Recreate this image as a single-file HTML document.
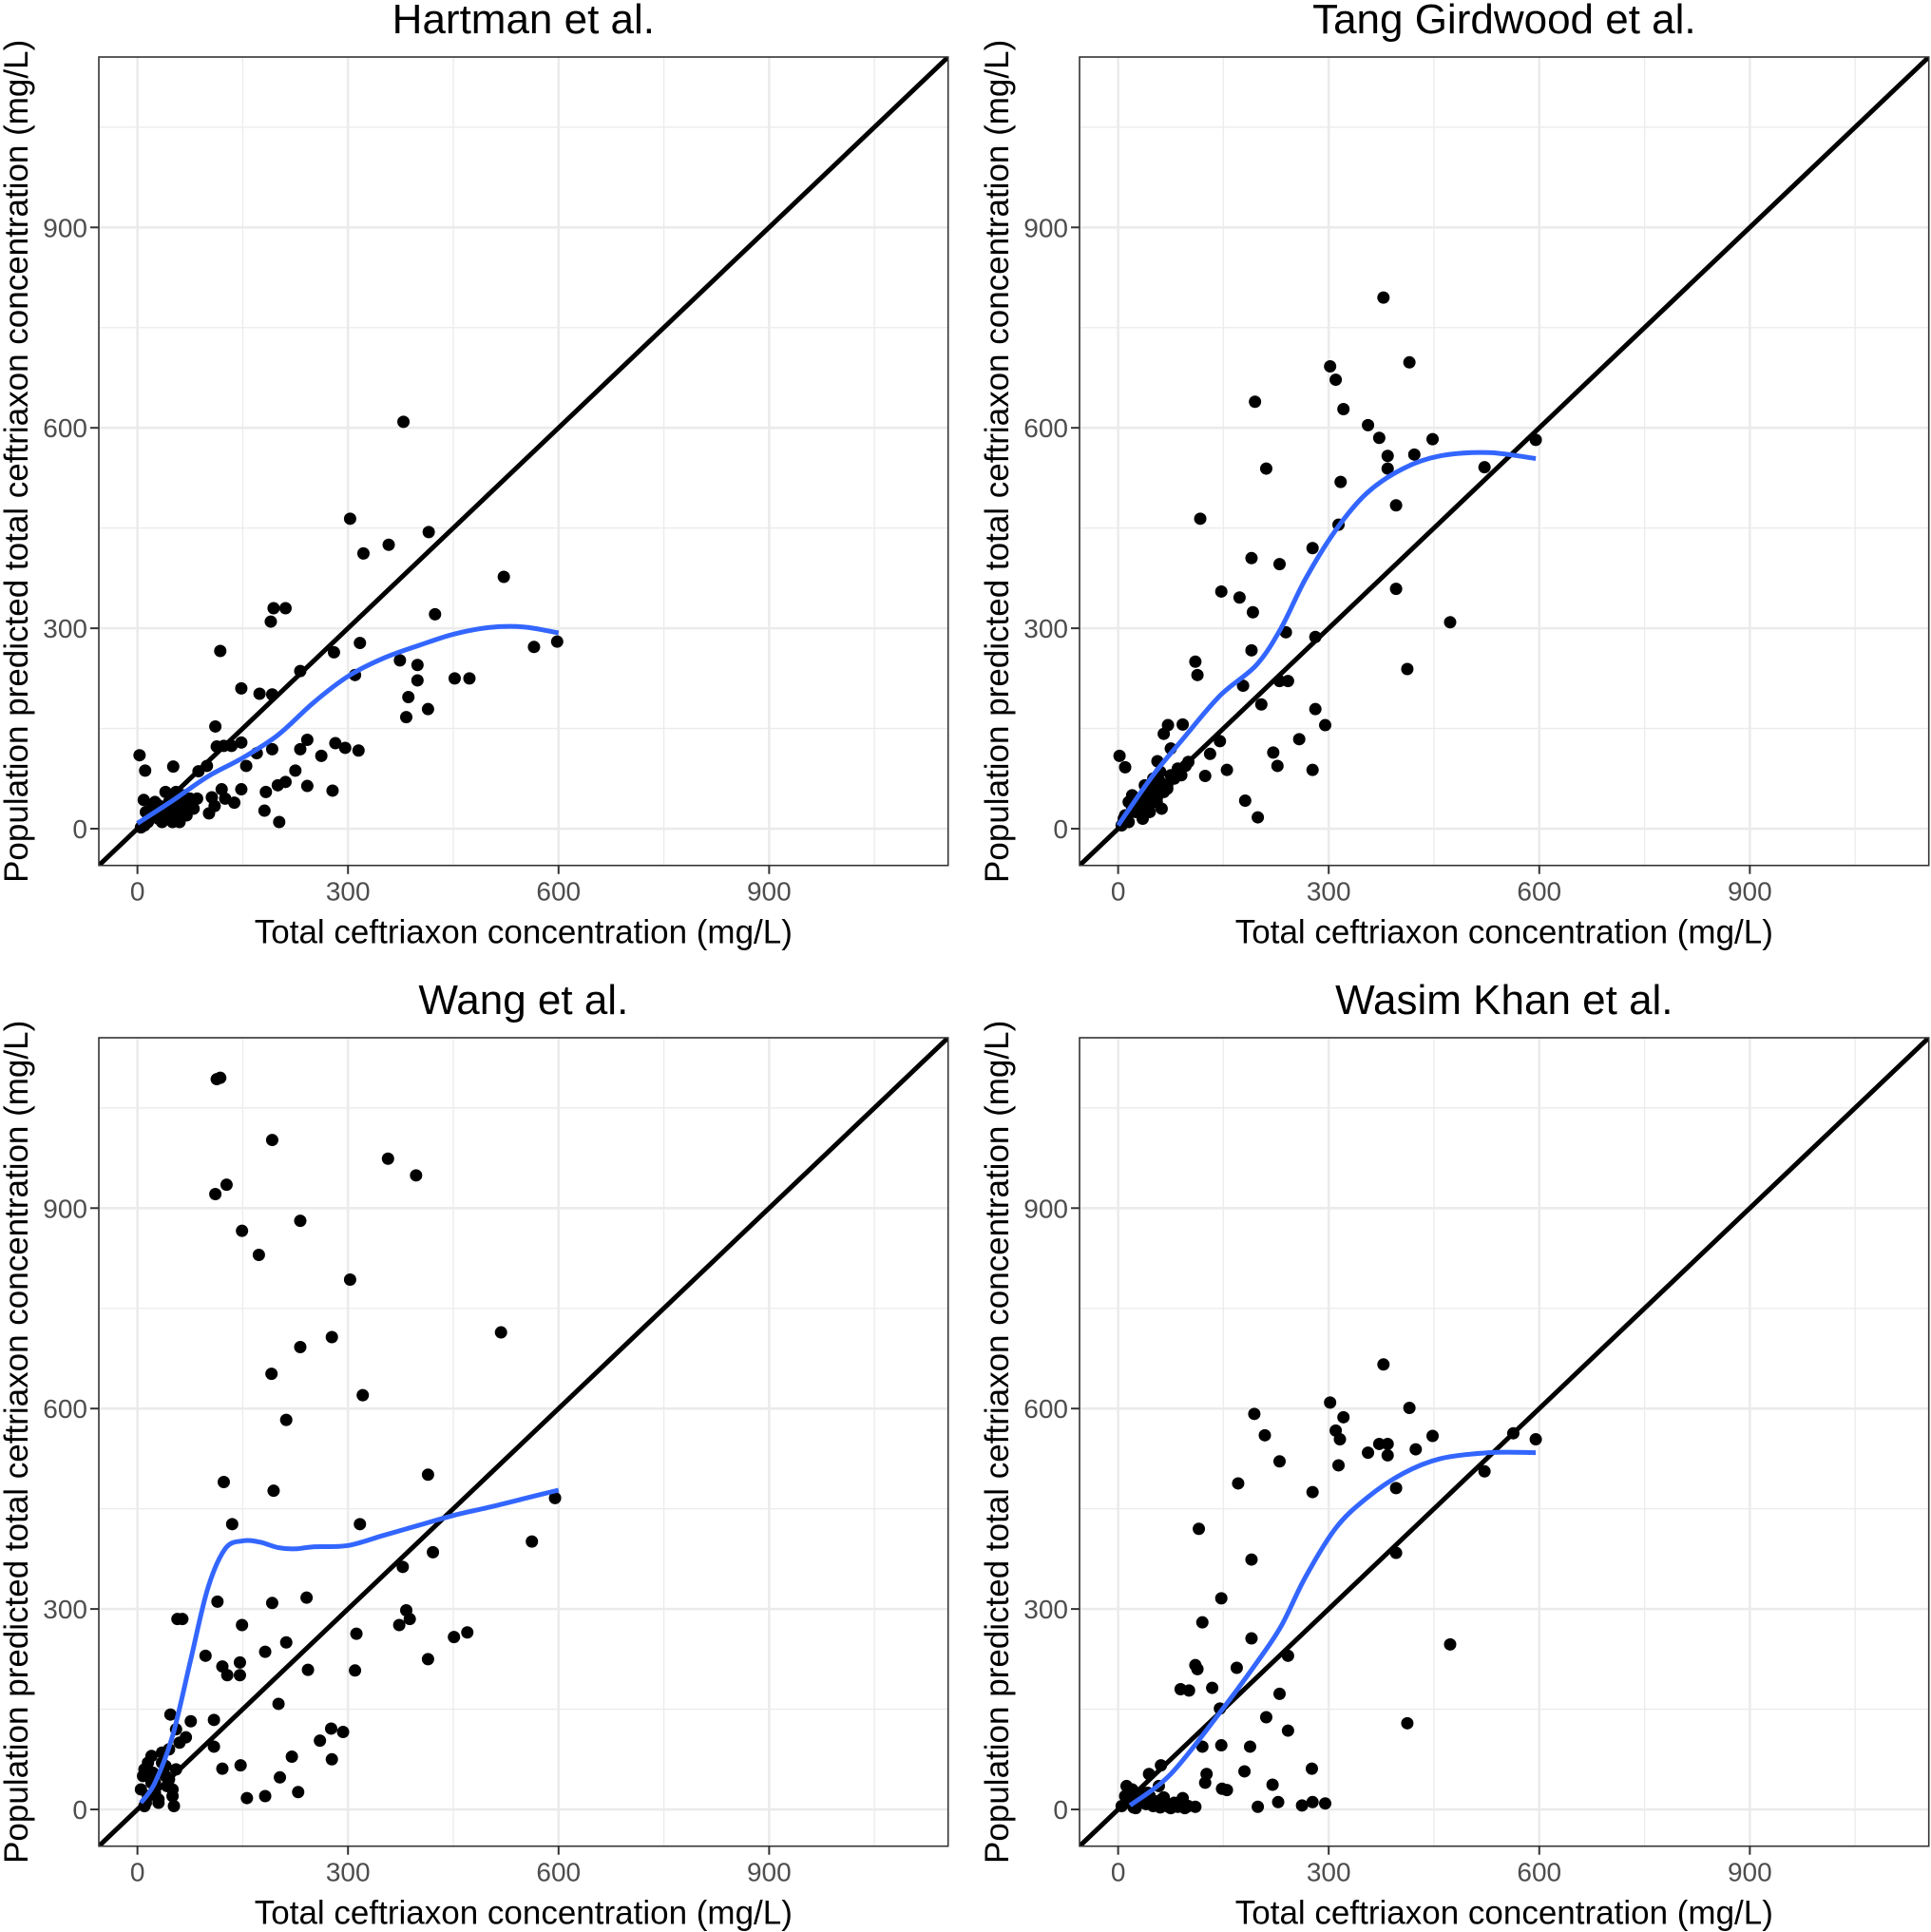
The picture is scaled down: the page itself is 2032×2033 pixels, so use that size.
<!DOCTYPE html>
<html><head><meta charset="utf-8"><title>Ceftriaxon predicted vs observed</title>
<style>html,body{margin:0;padding:0;background:#fff;}svg{display:block;}text{font-family:"Liberation Sans",Arial,sans-serif;}</style>
</head><body>
<svg id="chart" width="2032" height="2033" viewBox="0 0 2032 2033" xmlns="http://www.w3.org/2000/svg"></svg>
<script>
const panelTitles = ["Hartman et al.", "Tang Girdwood et al.", "Wang et al.", "Wasim Khan et al."];
const tickValues = [0, 300, 600, 900];
const tickLabels = ["0", "300", "600", "900"];
const minorTicks = [150, 450, 750, 1050];

const hartmanX = [379,303,415,358,322,522,424,194,211,190,118,280,317,598,565,310,232,374,399,399,452,473,386,383,414,148,174,192,111,113,123,134,148,170,192,155,232,242,262,282,296,315,99,87,3,11,51,225,211,200,242,278,183,148,120,106,110,125,138,102,181,202,9,20,25,30,35,40,45,50,55,60,65,70,75,80,50,45,60,30,15,10,5,70,85,40,55,65,35,25,12,48,58];
const hartmanY = [609,464,444,425,412,377,321,330,330,310,266,264,278,280,272,230,236,252,245,222,225,225,197,167,179,210,202,201,153,123,124,124,129,113,119,94,119,133,109,128,121,117,94,86,110,87,93,87,70,65,64,57,55,59,59,47,34,45,39,23,27,10,43,30,20,15,25,30,40,20,50,35,25,40,45,30,10,15,10,35,10,5,2,20,45,55,55,50,10,40,25,28,18];

const tangX = [378,302,415,310,321,195,356,372,448,595,384,422,211,384,522,317,396,117,314,190,230,277,396,147,173,192,239,473,281,281,295,258,412,190,110,113,242,230,204,178,221,227,277,181,199,124,145,155,131,92,71,65,2,10,75,56,96,5,10,15,20,25,30,35,40,45,50,55,60,65,70,75,80,20,30,40,50,60,70,35,45,55,25,15,8,62,48,38,85,100,90];
const tangY = [795,692,698,672,628,639,604,585,583,582,558,560,539,539,541,519,484,464,455,405,396,420,359,355,346,324,294,309,287,179,155,134,239,267,250,230,221,221,186,214,114,94,88,42,17,79,131,88,112,156,155,142,109,92,120,101,94,5,20,10,30,25,40,20,50,35,60,45,70,55,65,80,75,50,45,30,75,85,60,15,25,40,35,40,15,30,55,65,90,100,80];

const wangX = [118,113,192,357,397,111,127,149,232,173,303,518,232,277,191,212,321,123,414,194,135,317,562,595,378,192,241,114,57,64,383,388,312,212,451,470,373,414,421,149,121,146,128,97,243,310,182,146,201,109,109,121,276,293,260,277,220,203,156,182,229,147,47,76,69,5,10,15,20,25,30,35,40,45,50,55,60,10,20,30,40,50,55,45,35,25,15,8,12,22,42,52];
const wangY = [1095,1093,1002,974,949,921,935,866,881,830,793,714,692,707,652,583,620,490,501,477,427,427,401,466,363,309,317,311,285,285,298,285,263,250,258,265,276,225,385,276,214,201,201,230,209,208,236,220,158,134,94,61,121,116,103,75,79,48,17,20,26,66,142,132,108,30,60,20,80,40,10,70,50,90,30,60,100,5,40,15,65,20,120,45,85,25,70,50,10,55,35,5];

const khanX = [378,302,415,194,321,310,209,448,563,595,316,372,384,356,384,424,230,314,522,171,396,277,115,396,190,147,120,190,473,242,110,113,169,134,89,101,145,211,230,412,147,242,120,188,180,276,126,124,220,148,155,228,199,277,295,262,110,58,44,61,92,5,10,15,20,25,30,35,40,45,50,55,60,65,70,75,80,85,90,95,100,12,22,32,42,52,62,72,18,28];
const khanY = [666,609,601,592,587,567,560,559,563,554,554,547,547,534,530,539,521,515,506,488,481,475,420,384,374,316,280,256,247,230,216,210,212,182,180,178,151,138,173,129,96,118,94,94,57,61,53,40,37,31,29,11,4,11,9,6,4,35,53,66,17,5,20,10,30,2,15,25,8,20,5,12,3,18,6,2,10,4,8,2,5,35,3,12,25,6,15,4,28,14];

const hartmanSmoothX = [0,50,100,150,200,250,300,350,400,450,500,550,600];
const hartmanSmoothY = [8,42,78,106,140,188,228,255,274,291,301,302,293];
const tangSmoothX = [0,49,92,145,197,232,267,310,354,406,459,528,595];
const tangSmoothY = [5,79,134,199,245,300,374,447,502,539,558,563,554];
const wangSmoothX = [5,25,50,75,100,125,150,175,200,225,250,300,350,400,450,500,550,600];
const wangSmoothY = [10,40,110,220,330,390,402,400,392,390,393,395,410,425,440,452,465,478];
const khanSmoothX = [17,75,145,197,232,267,310,354,406,459,528,595];
const khanSmoothY = [6,53,145,219,274,348,421,466,503,525,534,534];

const panelXs = [hartmanX, tangX, wangX, khanX];
const panelYs = [hartmanY, tangY, wangY, khanY];
const smoothXs = [hartmanSmoothX, tangSmoothX, wangSmoothX, khanSmoothX];
const smoothYs = [hartmanSmoothY, tangSmoothY, wangSmoothY, khanSmoothY];
const panelKeys = ["hartman", "tang-girdwood", "wang", "wasim-khan"];

const NS = "http://www.w3.org/2000/svg";
const svg = document.getElementById("chart");
const DMIN = -55, DMAX = 1155;
const PW = 893.7, PH = 850.7;
function mk(tag, attrs, parent) {
  const e = document.createElementNS(NS, tag);
  for (const k in attrs) e.setAttribute(k, attrs[k]);
  parent.appendChild(e);
  return e;
}
function sx(v, x0) { return x0 + (v - DMIN) / (DMAX - DMIN) * PW; }
function sy(v, y0) { return y0 + PH - (v - DMIN) / (DMAX - DMIN) * PH; }
function smoothPath(pts) {
  let d = "M" + pts[0][0].toFixed(1) + "," + pts[0][1].toFixed(1);
  for (let i = 0; i < pts.length - 1; i++) {
    const p0 = pts[Math.max(0, i - 1)], p1 = pts[i], p2 = pts[i + 1], p3 = pts[Math.min(pts.length - 1, i + 2)];
    const c1x = p1[0] + (p2[0] - p0[0]) / 6, c1y = p1[1] + (p2[1] - p0[1]) / 6;
    const c2x = p2[0] - (p3[0] - p1[0]) / 6, c2y = p2[1] - (p3[1] - p1[1]) / 6;
    d += "C" + c1x.toFixed(1) + "," + c1y.toFixed(1) + " " + c2x.toFixed(1) + "," + c2y.toFixed(1) + " " + p2[0].toFixed(1) + "," + p2[1].toFixed(1);
  }
  return d;
}

for (let p = 0; p < 4; p++) {
  const x0 = p % 2 === 0 ? 104 : 1136;
  const y0 = p < 2 ? 60 : 1092;
  const key = panelKeys[p];
  const g = mk("g", {}, svg);
  
  
  const cid = "clip" + p;
  const cp = mk("clipPath", {id: cid}, g);
  mk("rect", {x: x0, y: y0, width: PW, height: PH}, cp);
  const grid = mk("g", {}, g);
  
  
  minorTicks.forEach(v => {
    mk("line", {x1: sx(v, x0), x2: sx(v, x0), y1: y0, y2: y0 + PH, stroke: "#ebebeb", "stroke-width": 1.3}, grid);
    mk("line", {x1: x0, x2: x0 + PW, y1: sy(v, y0), y2: sy(v, y0), stroke: "#ebebeb", "stroke-width": 1.3}, grid);
  });
  tickValues.forEach(v => {
    mk("line", {x1: sx(v, x0), x2: sx(v, x0), y1: y0, y2: y0 + PH, stroke: "#ebebeb", "stroke-width": 2.6}, grid);
    mk("line", {x1: x0, x2: x0 + PW, y1: sy(v, y0), y2: sy(v, y0), stroke: "#ebebeb", "stroke-width": 2.6}, grid);
  });
  const plot = mk("g", {"clip-path": "url(#" + cid + ")"}, g);
  const xs = panelXs[p], ys = panelYs[p];
  for (let i = 0; i < xs.length; i++) {
    const c = mk("circle", {cx: sx(xs[i], x0), cy: sy(ys[i], y0), r: 6.5, fill: "#000"}, plot);
    
    
  }
  const idl = mk("line", {x1: sx(DMIN, x0), y1: sy(DMIN, y0), x2: sx(DMAX, x0), y2: sy(DMAX, y0), stroke: "#000", "stroke-width": 5}, plot);
  
  
  const smx = smoothXs[p], smy = smoothYs[p];
  const pts = smx.map((v, i) => [sx(v, x0), sy(smy[i], y0)]);
  const sm = mk("path", {d: smoothPath(pts), fill: "none", stroke: "#3366ff", "stroke-width": 5, "stroke-linejoin": "round", "stroke-linecap": "butt"}, plot);
  
  
  const border = mk("rect", {x: x0, y: y0, width: PW, height: PH, fill: "none", stroke: "#333", "stroke-width": 1.6}, g);
  
  
  tickValues.forEach((v, i) => {
    mk("line", {x1: sx(v, x0), x2: sx(v, x0), y1: y0 + PH, y2: y0 + PH + 9, stroke: "#333", "stroke-width": 2}, g);
    mk("line", {x1: x0 - 9, x2: x0, y1: sy(v, y0), y2: sy(v, y0), stroke: "#333", "stroke-width": 2}, g);
    const xt = mk("text", {x: sx(v, x0), y: y0 + PH + 37, "text-anchor": "middle", "font-size": 28, fill: "#4d4d4d"}, g);
    xt.textContent = tickLabels[i];
    
    
    const yt = mk("text", {x: x0 - 12, y: sy(v, y0) + 10, "text-anchor": "end", "font-size": 28, fill: "#4d4d4d"}, g);
    yt.textContent = tickLabels[i];
    
    
  });
  const t = mk("text", {x: x0 + PW / 2, y: y0 - 25, "text-anchor": "middle", "font-size": 44, fill: "#000"}, g);
  t.textContent = panelTitles[p];
  
  
  const xl = mk("text", {x: x0 + PW / 2, y: y0 + PH + 82, "text-anchor": "middle", "font-size": 35, fill: "#000"}, g);
  xl.textContent = "Total ceftriaxon concentration (mg/L)";
  
  
  const ycx = x0 - 75, ycy = y0 + PH / 2;
  const yl = mk("text", {x: ycx, y: ycy, "text-anchor": "middle", "font-size": 35, fill: "#000", transform: "rotate(-90 " + ycx + " " + ycy + ")"}, g);
  yl.textContent = "Population predicted total ceftriaxon concentration (mg/L)";
  
  
}
</script>
</body></html>
